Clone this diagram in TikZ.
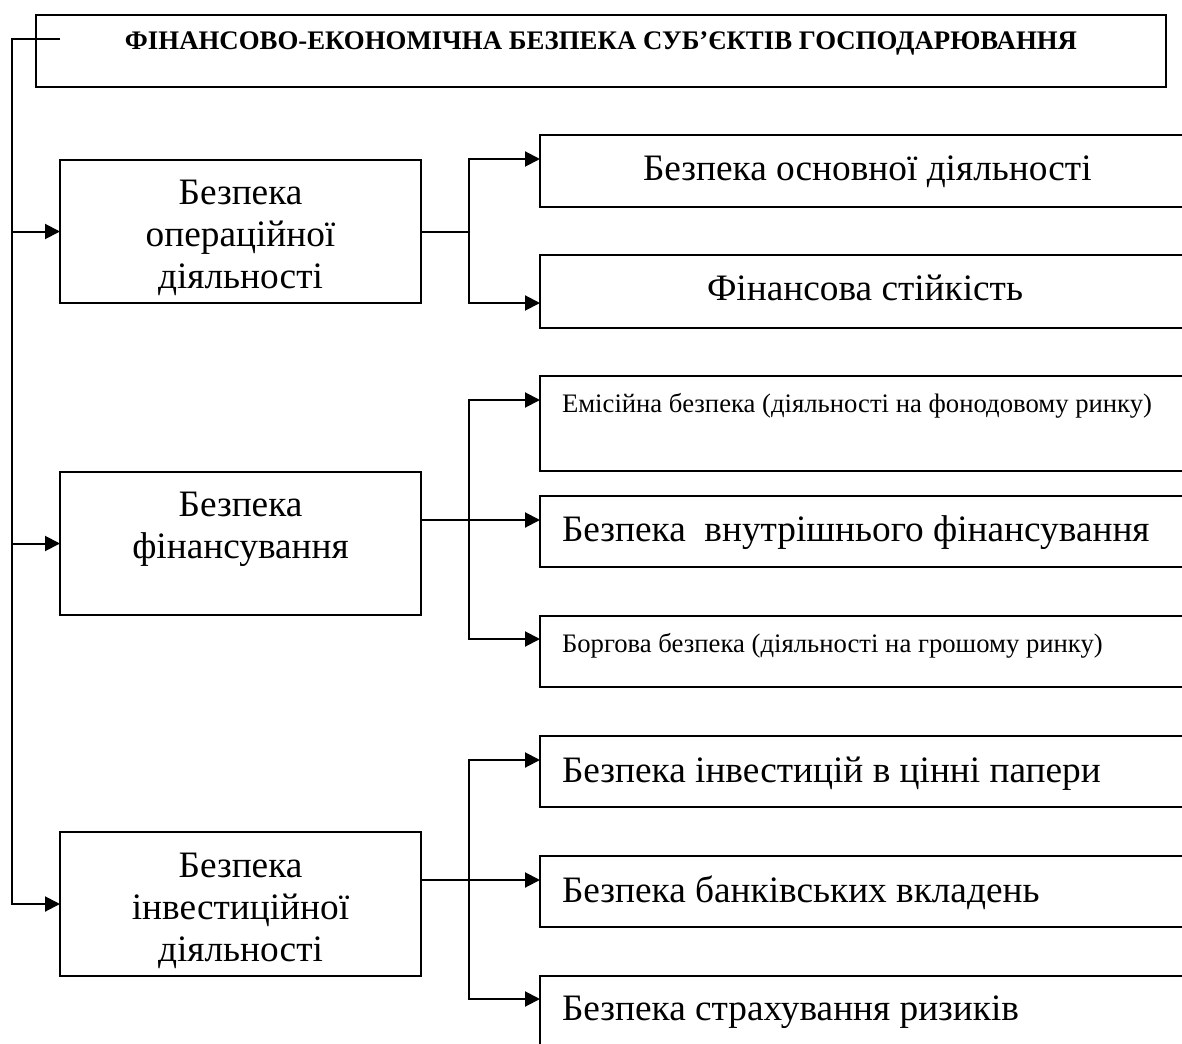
\documentclass[tikz,border=0pt]{standalone}
\usepackage{fontspec}
\setmainfont{Liberation Serif}
\usetikzlibrary{arrows.meta}

% A fixed-size box body: width, height, first baseline below the top, rows
\newcommand\panelbody[4]{\vbox to #2{\vskip\dimexpr#3-\baselineskip\relax\hbox{}#4\vss}}
% A centred row and an indented row
\newcommand\midrow[2]{\hbox to #1{\hfil#2\hfil}}
\newcommand\padrow[3]{\hbox to #1{\hskip#2\relax#3\hfil}}

\begin{document}
\begin{tikzpicture}[x=1pt,y=-1pt,
  panel/.style={draw, line width=2pt, inner sep=0pt, outer sep=0pt, anchor=north west},
  link/.style={line width=2pt},
  feed/.style={line width=2pt, -{Triangle[length=15pt,width=15pt]}},
  twofeed/.style={line width=2pt, {Triangle[length=15pt,width=15pt]}-{Triangle[length=15pt,width=15pt]}},
  headfont/.style={font=\bfseries\fontsize{26.8}{31}\selectfont},
  bigtext/.style={font=\fontsize{37.3}{42}\selectfont},
  smalltext/.style={font=\fontsize{26.7}{31}\selectfont}]
\useasboundingbox (0,0) rectangle (1182,1043);
\clip (0,0) rectangle (1182,1043);
\fill[white] (0,0) rectangle (1182,1043);

% heading
\node[panel, headfont] (head) at (36,15)
  {\panelbody{1130pt}{72pt}{35pt}{\midrow{1130pt}{ФІНАНСОВО-ЕКОНОМІЧНА БЕЗПЕКА СУБ’ЄКТІВ ГОСПОДАРЮВАННЯ}}};

% left column
\node[panel, bigtext] (ops) at (60,160)
  {\panelbody{361pt}{143pt}{44pt}{\midrow{361pt}{Безпека}\midrow{361pt}{операційної}\midrow{361pt}{діяльності}}};
\node[panel, bigtext] (fin) at (60,472)
  {\panelbody{361pt}{143pt}{44pt}{\midrow{361pt}{Безпека}\midrow{361pt}{фінансування}}};
\node[panel, bigtext] (inv) at (60,832)
  {\panelbody{361pt}{144pt}{45pt}{\midrow{361pt}{Безпека}\midrow{361pt}{інвестиційної}\midrow{361pt}{діяльності}}};

% right column
\node[panel, bigtext] (r1) at (540,135)
  {\panelbody{660pt}{72pt}{45pt}{\padrow{660pt}{103pt}{Безпека основної діяльності}}};
\node[panel, bigtext] (r2) at (540,255)
  {\panelbody{660pt}{73pt}{45pt}{\padrow{660pt}{167pt}{Фінансова стійкість}}};
\node[panel, smalltext] (r3) at (540,376)
  {\panelbody{660pt}{95pt}{36pt}{\padrow{660pt}{22pt}{Емісійна безпека (діяльності на фонодовому ринку)}}};
\node[panel, bigtext] (r4) at (540,496)
  {\panelbody{660pt}{71pt}{45pt}{\padrow{660pt}{22pt}{Безпека\ \ внутрішнього фінансування}}};
\node[panel, smalltext] (r5) at (540,616)
  {\panelbody{660pt}{71pt}{36pt}{\padrow{660pt}{22pt}{Боргова безпека (діяльності на грошому ринку)}}};
\node[panel, bigtext] (r6) at (540,736)
  {\panelbody{660pt}{71pt}{46pt}{\padrow{660pt}{22pt}{Безпека інвестицій в цінні папери}}};
\node[panel, bigtext] (r7) at (540,856)
  {\panelbody{660pt}{71pt}{46pt}{\padrow{660pt}{22pt}{Безпека банківських вкладень}}};
\node[panel, bigtext] (r8) at (540,976)
  {\panelbody{660pt}{90pt}{44pt}{\padrow{660pt}{22pt}{Безпека страхування ризиків}}};

% trunk on the left
\coordinate (trunktop) at (12,39);
\coordinate (ticktip) at (60,39);
\draw[feed] (ticktip) -- (trunktop) -- (trunktop |- inv.west) -- (inv.west);
\draw[feed] (trunktop |- ops.west) -- (ops.west);
\draw[feed] (trunktop |- fin.west) -- (fin.west);

% operating branch
\coordinate (opsA) at (469,159);
\coordinate (opsB) at (469,303);
\draw[link] (ops.east) -- (ops.east -| opsA);
\draw[twofeed] (opsA -| r1.west) -- (opsA) -- (opsB) -- (opsB -| r2.west);

% financing branch
\coordinate (finA) at (469,400);
\coordinate (finM) at (469,520);
\coordinate (finB) at (469,639);
\draw[twofeed] (finA -| r3.west) -- (finA) -- (finB) -- (finB -| r5.west);
\draw[feed] (finM -| fin.east) -- (finM -| r4.west);

% investing branch
\coordinate (invA) at (469,760);
\coordinate (invM) at (469,880);
\coordinate (invB) at (469,999);
\draw[twofeed] (invA -| r6.west) -- (invA) -- (invB) -- (invB -| r8.west);
\draw[feed] (invM -| inv.east) -- (invM -| r7.west);
\end{tikzpicture}
\end{document}
